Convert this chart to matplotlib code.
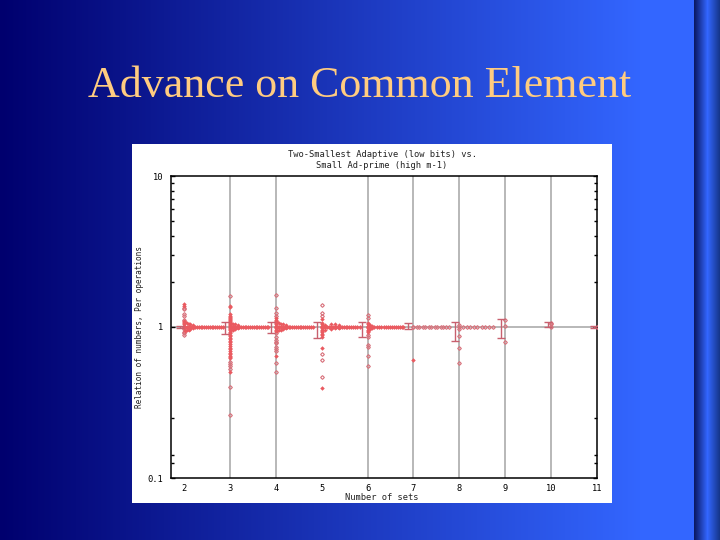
import numpy as np
import matplotlib
matplotlib.use('Agg')
import matplotlib.pyplot as plt
from matplotlib.ticker import NullFormatter

# slide text
slide_title = 'Advance on Common Element'
chart_title = 'Two-Smallest Adaptive (low bits) vs.\nSmall Ad-prime (high m-1)'
x_label = 'Number of sets'
y_label = 'Relation of numbers, Per operations'

x_ticks = [2, 3, 4, 5, 6, 7, 8, 9, 10, 11]
y_ticks = [0.1, 1, 10]
y_tick_labels = ['0.1', '1', '10']
y_minor = [0.126, 0.142, 0.25, 2, 3, 4, 5, 6, 7, 8, 9]
grid_x = [3, 4, 6, 7, 8, 9, 10]

# open points on the integer columns
col_2 = [1.33, 1.31, 1.22, 1.18, 1.12, 0.965, 0.93, 0.91, 0.885]
col_3 = [1.60, 0.59, 0.57, 0.55, 0.53, 0.40, 0.26]
col_4 = [1.63, 1.33, 1.24, 1.18, 0.91, 0.86, 0.82, 0.80, 0.78, 0.74, 0.71, 0.69, 0.58, 0.50]
col_5 = [1.40, 1.23, 1.19, 0.66, 0.60, 0.464]
col_6 = [1.20, 1.15, 0.89, 0.86, 0.76, 0.74, 0.64, 0.55]
col_7 = [1.0]
col_8 = [1.03, 1.0, 0.97, 0.87, 0.73, 0.58]
col_9 = [1.12, 1.01, 0.80]
col_10 = [1.07, 1.04, 1.0]
col_11 = [1.0]

# filled points on the integer columns, these merge into solid bars
solid_2 = [1.42, 1.38, 1.10, 1.08, 1.06, 1.04, 1.02, 1.0, 0.98]
solid_3 = [1.38, 1.35, 1.21, 1.19, 1.17, 1.15, 1.13, 1.11, 1.09, 1.07, 1.05, 1.03, 1.01, 0.99, 0.97, 0.95, 0.93,
           0.91, 0.89, 0.87, 0.85, 0.83, 0.81, 0.79, 0.77, 0.75, 0.73, 0.71, 0.69, 0.675, 0.66, 0.645, 0.63, 0.62,
           0.50]
solid_4 = [1.14, 1.12, 1.10, 1.08, 1.06, 1.04, 1.02, 1.0, 0.98, 0.96, 0.94, 0.645]
solid_5 = [1.13, 1.06, 1.04, 1.02, 1.0, 0.98, 0.96, 0.94, 0.92, 0.90, 0.88, 0.86, 0.73, 0.395]
solid_6 = [1.06, 1.04, 1.02, 1.0, 0.98, 0.96, 0.94, 0.93]
solid_7 = [0.60]

# wedge just right of the columns
wedge_x = [2.03, 2.03, 2.06, 2.06, 2.1, 2.1, 2.14, 2.14, 2.19, 2.19, 3.03, 3.03, 3.07, 3.07, 3.12, 3.12, 3.17, 3.17,
           4.03, 4.03, 4.07, 4.07, 4.11, 4.11, 4.16, 4.16, 4.22, 4.22, 5.08, 5.08, 5.2, 5.2, 5.3, 5.3, 5.38, 5.38,
           6.05, 6.05, 6.1, 6.1]
wedge_y = [1.08, 0.94, 1.06, 0.95, 1.05, 0.96, 1.04, 0.97, 1.03, 0.98, 1.06, 0.95, 1.05, 0.96, 1.04, 0.97, 1.03, 0.98,
           1.08, 0.94, 1.06, 0.95, 1.05, 0.96, 1.04, 0.97, 1.03, 0.98, 1.03, 0.96, 1.05, 0.97, 1.05, 0.98, 1.03, 0.98,
           1.03, 0.97, 1.02, 0.98]

# the run of points along y = 1
band_x = [2.0, 2.03, 2.06, 2.09, 2.12, 2.16, 2.2, 2.24, 2.28, 2.32, 2.36, 2.4, 2.44, 2.48, 2.52, 2.56, 2.6, 2.64, 2.68,
          2.72, 2.76, 2.8, 2.84,
          3.0, 3.04, 3.08, 3.12, 3.16, 3.2, 3.24, 3.28, 3.32, 3.36, 3.4, 3.44, 3.48, 3.52, 3.56, 3.6, 3.64, 3.68,
          3.72, 3.76, 3.8, 3.82,
          4.0, 4.04, 4.08, 4.12, 4.16, 4.2, 4.24, 4.28, 4.32, 4.36, 4.4, 4.44, 4.48, 4.52, 4.56, 4.6, 4.64, 4.68,
          4.72, 4.76, 4.81,
          5.0, 5.04, 5.08, 5.12, 5.16, 5.2, 5.24, 5.28, 5.32, 5.36, 5.4, 5.44, 5.48, 5.52, 5.56, 5.6, 5.64, 5.68,
          5.72, 5.76, 5.83,
          6.0, 6.05, 6.1, 6.15, 6.2, 6.25, 6.3, 6.35, 6.4, 6.45, 6.5, 6.54, 6.58, 6.62, 6.66, 6.7, 6.74, 6.77]
band_y = [1.0] * len(band_x)
sparse_x = [7.0, 7.07, 7.13, 7.2, 7.26, 7.33, 7.39, 7.46, 7.52, 7.59, 7.65, 7.72, 7.78,
            8.07, 8.16, 8.23, 8.32, 8.39, 8.5, 8.57, 8.65, 8.74]
sparse_y = [1.0] * len(sparse_x)

# means with error bars
err_x = [1.91, 2.89, 3.89, 4.89, 5.87, 6.88, 7.9, 8.91, 9.93, 10.93]
err_lo = [0.985, 0.90, 0.91, 0.846, 0.86, 0.97, 0.81, 0.846, 1.0, 0.985]
err_hi = [1.015, 1.08, 1.08, 1.08, 1.08, 1.06, 1.08, 1.13, 1.08, 1.015]

W, H = 720, 540
red = '#ea5a60'
open_red = '#d8707a'
err_col = '#c8606e'
gray = '#ababab'

fig = plt.figure(figsize=(7.2, 5.4), dpi=100)


def px_axes(x0, y0, x1, y1):
    return fig.add_axes([x0 / W, 1 - y1 / H, (x1 - x0) / W, (y1 - y0) / H])


# slide background
cols = np.arange(W)
stops = [0, 640, 693, 694, 707, 720]
r = np.interp(cols, stops, [0, 51, 51, 10, 51, 20])
g = np.interp(cols, stops, [0, 102, 102, 25, 102, 50])
b = np.interp(cols, stops, [110, 255, 255, 100, 255, 130])
bg = np.stack([r, g, b], axis=1)[None, :, :] / 255
ax_bg = fig.add_axes([0, 0, 1, 1])
ax_bg.imshow(bg, aspect='auto', interpolation='nearest')
ax_bg.axis('off')
fig.text(360 / W, 1 - 97 / H, slide_title, family='Liberation Serif', size=31.7, color='#ffcc80',
         ha='center', va='baseline')

# white panel
ax_p = px_axes(132, 144, 612, 503)
ax_p.set_xticks([])
ax_p.set_yticks([])
for s in ax_p.spines.values():
    s.set_visible(False)

ax = px_axes(170.5, 176, 597, 478)
ax.set_yscale('log')
ax.set_xlim(1.706, 11)
ax.set_ylim(0.1, 10)

for gx in grid_x:
    ax.axvline(gx, color=gray, lw=1.2, zorder=1)
ax.axhline(1, color=gray, lw=1.2, zorder=1)

open_cols = [(2, col_2), (3, col_3), (4, col_4), (5, col_5), (6, col_6),
             (7, col_7), (8, col_8), (9, col_9), (10, col_10), (11, col_11)]
for cx, vals in open_cols:
    ax.plot([cx] * len(vals), vals, ls='none', marker='D', ms=1.9, mfc='none', mec=open_red, mew=0.8, zorder=3)
solid_cols = [(2, solid_2), (3, solid_3), (4, solid_4), (5, solid_5), (6, solid_6), (7, solid_7)]
for cx, vals in solid_cols:
    ax.plot([cx] * len(vals), vals, ls='none', marker='D', ms=2.3, color=red, mew=0, zorder=3)
ax.plot(wedge_x, wedge_y, ls='none', marker='D', ms=2.2, color=red, mew=0, zorder=3)
ax.plot(band_x, band_y, ls='none', marker='D', ms=2.4, color=red, mew=0, zorder=3)
ax.plot(sparse_x, sparse_y, ls='none', marker='D', ms=1.9, mfc='none', mec=open_red, mew=0.8, zorder=3)

lo, hi = np.array(err_lo), np.array(err_hi)
ax.errorbar(err_x, np.ones(len(err_x)), yerr=[1 - lo, hi - 1], fmt='none', ecolor=err_col,
            elinewidth=1, capsize=2.8, capthick=1, zorder=4)

ax.set_xticks(x_ticks)
ax.set_yticks(y_ticks)
ax.set_yticklabels(y_tick_labels)
ax.set_yticks(y_minor, minor=True)
ax.yaxis.set_minor_formatter(NullFormatter())
ax.tick_params(axis='x', length=0, pad=4, labelsize=6.3, labelfontfamily='DejaVu Sans Mono')
ax.tick_params(axis='y', which='major', direction='in', left=True, right=True, length=3, width=1,
               pad=5, labelsize=6.3, labelfontfamily='DejaVu Sans Mono')
ax.tick_params(axis='y', which='minor', direction='in', left=True, right=True, length=2, width=1)
for s in ax.spines.values():
    s.set_linewidth(1.1)

fig.text(382 / W, 1 - 160 / H, chart_title, family='DejaVu Sans Mono', size=6.3, ha='center', va='center',
         linespacing=1.15, color='#222222')
fig.text(382 / W, 1 - 498 / H, x_label, family='DejaVu Sans Mono', size=6.3, ha='center', va='center',
         color='#222222')
fig.text(140 / W, 1 - 327 / H, y_label, family='DejaVu Sans Mono', size=5.6, rotation=90, ha='center',
         va='center', color='#222222')

plt.savefig('out.png', dpi=100)
